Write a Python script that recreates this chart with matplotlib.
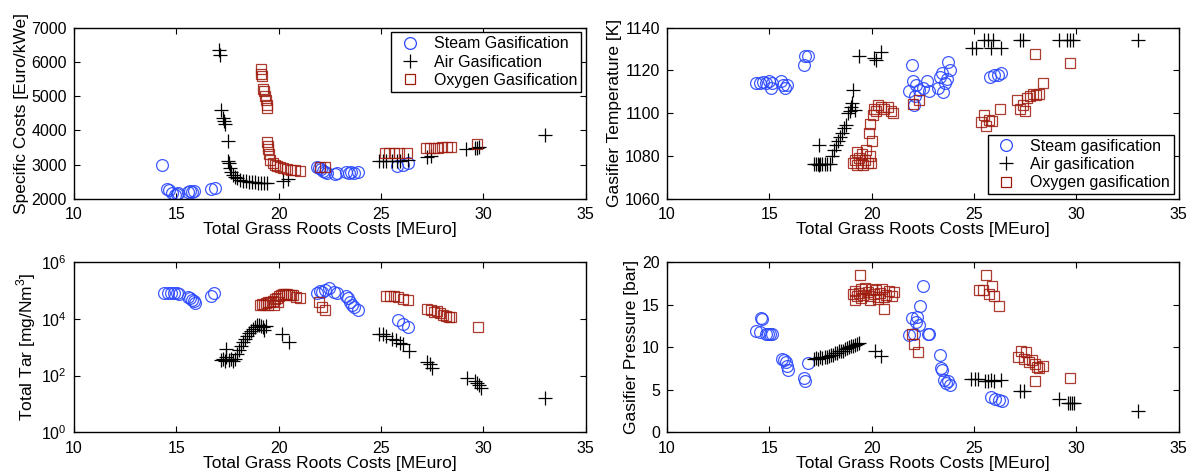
import numpy as np
import matplotlib.pyplot as plt
from matplotlib.lines import Line2D

plt.rcParams['font.family'] = ['Liberation Sans', 'DejaVu Sans']
plt.rcParams['mathtext.fontset'] = 'custom'
plt.rcParams['mathtext.rm'] = 'Liberation Sans'

#? Specific costs [Euro/kWe] vs total grass roots costs [MEuro]
steam_x1 = [14.3, 14.55, 14.65, 14.8, 14.95, 15.05, 15.1, 15.55, 15.65, 15.75, 15.85, 16.7, 16.9,
            21.85, 21.95, 22.05, 22.15, 22.25, 22.35, 22.75, 22.85, 23.3, 23.45, 23.55, 23.7, 23.85,
            25.8, 26.05, 26.3]
steam_y1 = [3000, 2300, 2260, 2170, 2130, 2150, 2190, 2200, 2230, 2210, 2240, 2300, 2330,
            2930, 2900, 2880, 2820, 2780, 2760, 2740, 2760, 2780, 2770, 2790, 2770, 2780,
            2960, 3000, 3050]
air_x1 = [17.1, 17.12, 17.2, 17.3, 17.35, 17.4, 17.5, 17.5, 17.55, 17.6, 17.65, 17.75, 17.85, 17.95,
          18.1, 18.25, 18.4, 18.55, 18.7, 18.85, 19.0, 19.15, 19.3, 19.45, 20.2, 20.45,
          24.9, 25.1, 25.25, 25.55, 25.8, 25.95, 26.3, 27.25, 27.45, 29.15, 29.6, 29.7, 29.8, 33.0]
air_y1 = [6350, 6200, 4600, 4350, 4280, 4200, 3680, 3100, 3050, 2900, 2800, 2700, 2640, 2600,
          2560, 2540, 2520, 2510, 2500, 2490, 2480, 2480, 2470, 2470, 2540, 2570,
          3110, 3120, 3110, 3120, 3110, 3100, 3130, 3230, 3240, 3450, 3480, 3490, 3510, 3860]
oxy_x1 = [19.15, 19.15, 19.2, 19.25, 19.3, 19.35, 19.4, 19.42, 19.45, 19.45, 19.48, 19.5, 19.55,
          19.6, 19.7, 19.8, 19.9, 20.05, 20.2, 20.4, 20.6, 20.8, 21.05, 22.0, 22.25,
          25.2, 25.4, 25.65, 25.9, 26.25, 27.2, 27.4, 27.6, 27.8, 28.0, 28.2, 28.4, 29.7]
oxy_y1 = [5800, 5650, 5600, 5200, 5150, 5000, 4900, 4750, 4650, 3650, 3550, 3450, 3300,
          3150, 3050, 2990, 2950, 2920, 2900, 2880, 2860, 2840, 2820, 2920, 2930,
          3330, 3340, 3330, 3330, 3350, 3480, 3490, 3490, 3500, 3510, 3520, 3530, 3600]

#? Gasifier temperature [K]
steam_x2 = [14.35, 14.55, 14.7, 14.85, 15.0, 15.1, 15.15, 15.55, 15.65, 15.75, 15.85, 16.7, 16.75, 16.9,
            21.85, 21.95, 22.0, 22.05, 22.1, 22.15, 22.3, 22.5, 22.7, 22.8,
            23.25, 23.35, 23.45, 23.5, 23.6, 23.7, 23.75, 23.85, 25.8, 26.0, 26.15, 26.3]
steam_y2 = [1114, 1114, 1114.5, 1114, 1115, 1112, 1114, 1115, 1113, 1112, 1113, 1122.5, 1126.5, 1126.5,
            1110.5, 1122.5, 1115, 1104, 1108, 1113, 1111, 1112, 1115, 1110.5,
            1112, 1117, 1119, 1110, 1114, 1116, 1124, 1120, 1117, 1118, 1118, 1119]
air_x2 = [17.2, 17.3, 17.4, 17.45, 17.5, 17.6, 17.7, 17.8, 17.95, 17.45, 18.05, 18.15, 18.25, 18.35,
          18.45, 18.55, 18.65, 18.75, 18.85, 18.95, 19.0, 19.05, 19.1, 19.2, 19.4, 20.1, 20.2, 20.45,
          24.9, 25.1, 25.5, 25.7, 25.85, 25.95, 26.3, 27.25, 27.4, 29.15, 29.55, 29.7, 29.85, 33.0]
air_y2 = [1076.5, 1076.5, 1076.5, 1076, 1076.5, 1076.5, 1076.5, 1076.5, 1076.5, 1085, 1080, 1083, 1085, 1087,
          1089, 1091, 1093, 1094.5, 1100, 1101, 1103, 1105, 1111, 1101.5, 1126.5, 1126, 1125, 1128.5,
          1130.5, 1130.5, 1134, 1134, 1130.5, 1134, 1130.5, 1134, 1134, 1134, 1134, 1134, 1134, 1134]
oxy_x2 = [19.1, 19.2, 19.3, 19.4, 19.5, 19.6, 19.7, 19.8, 19.9, 19.3, 19.55, 19.75, 19.95, 19.85,
          19.9, 20.0, 20.05, 20.1, 20.2, 20.3, 20.45, 20.6, 20.8, 20.95, 21.05, 22.0, 22.3,
          25.35, 25.5, 25.6, 25.75, 25.9, 26.25, 27.1, 27.25, 27.4, 27.5, 27.6, 27.75, 27.9,
          28.05, 28.2, 28.35, 28.0, 29.7]
oxy_y2 = [1077, 1078, 1076, 1079, 1077, 1076, 1078, 1077, 1080, 1082, 1081, 1083, 1077, 1091,
          1095, 1087, 1099, 1102, 1101, 1104, 1103, 1102, 1103, 1101, 1100, 1104.5, 1106,
          1096, 1099, 1094, 1097, 1096.5, 1102, 1106, 1102, 1104, 1101, 1107, 1108, 1109,
          1108.5, 1109, 1114, 1127.5, 1123.5]

#? Total tar [mg/Nm3]
steam_x3 = [14.4, 14.6, 14.75, 14.9, 15.05, 15.15, 15.55, 15.65, 15.75, 15.85, 15.9, 16.7, 16.85,
            21.85, 22.0, 22.1, 22.25, 22.45, 22.7, 22.85, 23.3, 23.4, 23.5, 23.6, 23.7, 23.85,
            25.85, 26.05, 26.3]
steam_y3 = [79400, 85100, 83200, 79400, 81300, 75900, 57500, 52500, 47900, 41700, 35500, 63100, 79400,
            83200, 95500, 87100, 104700, 125900, 89100, 83200, 63100, 52500, 39800, 31600, 26300, 20900,
            8900, 6600, 5250]
air_x3 = [17.2, 17.3, 17.4, 17.45, 17.55, 17.65, 17.75, 17.85, 17.45, 17.95, 18.05, 18.15, 18.25,
          18.35, 18.45, 18.55, 18.65, 18.75, 18.85, 18.95, 19.05, 19.15, 19.25, 19.4, 19.3, 20.15, 20.5,
          24.9, 25.1, 25.25, 25.55, 25.75, 25.95, 26.05, 26.35, 27.25, 27.4, 27.5,
          29.2, 29.6, 29.7, 29.8, 29.9, 33.0]
air_y3 = [355, 398, 316, 447, 355, 398, 331, 380, 891, 562, 794, 1122, 1585,
          1995, 2512, 3162, 3802, 4467, 5248, 6026, 6310, 5623, 5012, 5623, 4169, 2818, 1514,
          2818, 2818, 2512, 1995, 1778, 1413, 1259, 708, 302, 263, 191,
          79, 66, 56, 45, 35, 16]
oxy_x3 = [19.1, 19.2, 19.3, 19.4, 19.5, 19.6, 19.7, 19.8, 19.9, 20.0, 20.1, 20.2, 20.3, 20.4, 20.5,
          20.6, 20.7, 20.85, 21.05, 19.5, 19.75, 19.95, 21.95, 22.1, 22.25,
          25.25, 25.45, 25.65, 25.85, 26.05, 26.3, 27.25, 27.45, 27.6, 27.75, 27.9, 28.05, 28.15,
          28.3, 28.4, 29.75]
oxy_y3 = [31600, 33100, 31600, 35500, 38000, 39800, 41700, 50100, 56200, 63100, 70800, 75900, 74100,
          75900, 72400, 70800, 69200, 60300, 52500, 30200, 31600, 39800, 39800, 26300, 20000,
          66100, 66100, 63100, 57500, 50100, 45700, 22400, 20900, 17800, 19100, 15800, 14100, 12600,
          11200, 12000, 5250]

#? Gasifier pressure [bar]
steam_x4 = [14.35, 14.55, 14.6, 14.65, 14.85, 14.95, 15.05, 15.15, 15.6, 15.7, 15.8, 15.85, 15.9,
            16.7, 16.75, 16.9, 21.85, 21.95, 22.05, 22.15, 22.2, 22.3, 22.35, 22.5, 22.75, 22.8,
            23.35, 23.4, 23.45, 23.55, 23.65, 23.75, 23.85, 25.85, 26.05, 26.2, 26.35]
steam_y4 = [11.9, 11.8, 13.4, 13.3, 11.6, 11.5, 11.6, 11.5, 8.6, 8.5, 8.3, 7.8, 7.3,
            6.4, 6.0, 8.1, 11.4, 13.4, 11.5, 13.0, 13.6, 12.6, 14.8, 17.2, 11.6, 11.5,
            9.1, 7.5, 7.3, 6.1, 5.8, 6.0, 5.6, 4.2, 3.9, 3.8, 3.7]
air_x4 = [17.2, 17.3, 17.4, 17.5, 17.6, 17.7, 17.8, 17.9, 18.0, 18.1, 18.2, 18.3, 18.4, 18.5, 18.6,
          18.7, 18.8, 18.9, 19.0, 19.1, 19.2, 19.3, 19.4, 20.15, 20.45,
          24.85, 25.05, 25.2, 25.55, 25.7, 25.85, 26.0, 26.3, 27.25, 27.45,
          29.15, 29.6, 29.7, 29.8, 29.9, 33.0]
air_y4 = [8.6, 8.7, 8.6, 8.8, 8.7, 8.9, 8.8, 9.0, 9.1, 9.1, 9.3, 9.3, 9.5, 9.6, 9.6,
          9.8, 9.9, 10.0, 10.1, 10.2, 10.3, 10.4, 10.5, 9.5, 9.0,
          6.3, 6.3, 6.3, 6.0, 6.0, 6.1, 6.0, 6.2, 4.9, 4.9,
          3.9, 3.4, 3.4, 3.4, 3.4, 2.5]
oxy_x4 = [19.1, 19.2, 19.3, 19.4, 19.45, 19.5, 19.6, 19.7, 19.8, 19.9, 20.0, 20.1, 20.2, 20.3, 20.4,
          20.5, 20.6, 20.7, 20.85, 21.0, 21.1, 19.2, 19.5, 19.9, 20.3, 20.6, 21.95, 22.05, 22.25,
          25.25, 25.45, 25.6, 25.75, 25.9, 26.0, 26.2, 27.15, 27.3, 27.45, 27.55, 27.7, 27.85,
          28.0, 28.1, 28.2, 28.35, 28.0, 29.7]
oxy_y4 = [16.3, 16.6, 16.0, 16.4, 18.5, 16.8, 16.2, 17.0, 16.5, 16.0, 16.8, 16.3, 16.7, 15.9, 16.4,
          16.9, 14.5, 16.2, 16.6, 16.0, 16.5, 15.5, 15.8, 15.6, 15.7, 15.9, 11.6, 10.4, 9.4,
          16.7, 16.7, 18.5, 16.3, 17.2, 16.0, 14.9, 8.9, 9.6, 8.6, 9.4, 8.3, 8.5,
          8.0, 7.7, 7.5, 7.8, 6.0, 6.4]

BLUE = '#2a48ff'
RED = '#9e1a0c'
XLABEL = 'Total Grass Roots Costs [MEuro]'

fig = plt.figure(figsize=(11.93, 4.75), dpi=100)
ax1 = fig.add_axes([0.062, 0.581, 0.429, 0.361])
ax2 = fig.add_axes([0.559, 0.581, 0.429, 0.361])
ax3 = fig.add_axes([0.062, 0.090, 0.429, 0.358])
ax4 = fig.add_axes([0.559, 0.090, 0.429, 0.358])


def dibujar(ax, sx, sy, ax_, ay, ox, oy):
    ax.plot(sx, sy, 'o', ms=8.5, mfc='none', mec=BLUE, mew=0.9, alpha=0.9)
    ax.plot(ax_, ay, '+', ms=10, color='black', mew=0.9)
    ax.plot(ox, oy, 's', ms=7.5, mfc='none', mec=RED, mew=0.9, alpha=0.85)
    ax.set_xlim(10, 35)
    ax.set_xticks([10, 15, 20, 25, 30, 35])
    ax.tick_params(direction='in', top=True, right=True, labelsize=11.5, length=4, width=0.8)
    ax.tick_params(axis='x', pad=6)
    ax.tick_params(axis='y', pad=5)
    for s in ax.spines.values():
        s.set_linewidth(1.0)
    ax.set_xlabel(XLABEL, fontsize=12.5, labelpad=0)


dibujar(ax1, steam_x1, steam_y1, air_x1, air_y1, oxy_x1, oxy_y1)
ax1.set_ylim(2000, 7000)
ax1.set_yticks([2000, 3000, 4000, 5000, 6000, 7000])
ax1.set_ylabel('Specific Costs [Euro/kWe]', fontsize=12.5, labelpad=2)

dibujar(ax2, steam_x2, steam_y2, air_x2, air_y2, oxy_x2, oxy_y2)
ax2.set_ylim(1060, 1140)
ax2.set_yticks([1060, 1080, 1100, 1120, 1140])
ax2.set_ylabel('Gasifier Temperature [K]', fontsize=12.5, labelpad=2)

dibujar(ax3, steam_x3, steam_y3, air_x3, air_y3, oxy_x3, oxy_y3)
ax3.set_yscale('log')
ax3.set_ylim(1, 1e6)
ax3.set_yticks([1, 1e2, 1e4, 1e6])
ax3.set_yticklabels([r'$10^{0}$', r'$10^{2}$', r'$10^{4}$', r'$10^{6}$'])
ax3.minorticks_off()
ax3.set_ylabel('Total Tar [mg/Nm$^3$]', fontsize=12.5, labelpad=2)

dibujar(ax4, steam_x4, steam_y4, air_x4, air_y4, oxy_x4, oxy_y4)
ax4.set_ylim(0, 20)
ax4.set_yticks([0, 5, 10, 15, 20])
ax4.set_ylabel('Gasifier Pressure [bar]', fontsize=12.5, labelpad=2)


def leyenda(ax, nombres, loc):
    h = [Line2D([], [], ls='none', marker='o', ms=8.5, mfc='none', mec=BLUE, mew=0.9),
         Line2D([], [], ls='none', marker='+', ms=10, color='black', mew=0.9),
         Line2D([], [], ls='none', marker='s', ms=7.5, mfc='none', mec=RED, mew=0.9)]
    leg = ax.legend(h, nombres, loc=loc, fontsize=11.5, fancybox=False, framealpha=1,
                    edgecolor='black', borderaxespad=0.3, handletextpad=0.6,
                    labelspacing=0.2, borderpad=0.25, handlelength=1.8)
    leg.get_frame().set_linewidth(1.0)


leyenda(ax1, ['Steam Gasification', 'Air Gasification', 'Oxygen Gasification'], 'upper right')
leyenda(ax2, ['Steam gasification', 'Air gasification', 'Oxygen gasification'], 'lower right')

fig.savefig('out.png', dpi=100)
